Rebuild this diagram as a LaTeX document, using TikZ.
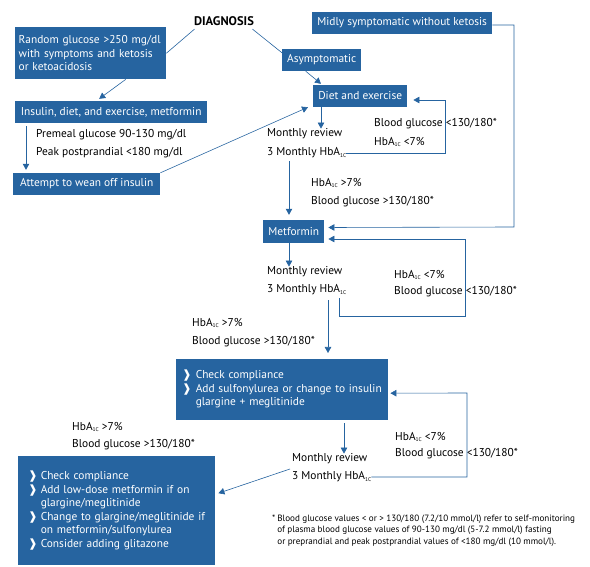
\documentclass[tikz,border=0pt]{standalone}
\usepackage{fontspec}
\setmainfont{PT Sans}
\newfontfamily\symfont{DejaVu Sans}
\usetikzlibrary{arrows.meta}
\definecolor{dblue}{RGB}{38,100,160}
\newcommand{\hbsub}{HbA\raisebox{-1.7pt}{\fontsize{5.5}{5.5}\selectfont 1C}}
\newcommand{\bul}{{\symfont\bfseries ❱}}

\begin{document}
\begin{tikzpicture}[x=1pt,y=-1pt,
  every node/.style={font=\fontsize{11.4}{13.5}\selectfont},
  box/.style={fill=dblue,text=white,inner sep=0pt,minimum height=22pt},
  txt/.style={inner sep=0pt,anchor=west},
  flow/.style={draw=dblue,line width=0.6pt},
  arr/.style={flow,-{Triangle[width=6.5pt,length=6pt]}}]
\useasboundingbox (0,0) rectangle (590,567);

\node[font=\bfseries\fontsize{12.5}{14}\selectfont] (diag) at (224,21) {DIAGNOSIS};
\node[box,anchor=north west,minimum height=52pt,text width=144pt,inner xsep=3.5pt,align=left] (rand) at (15,27) {Random glucose >250 mg/dl\\with symptoms and ketosis\\or ketoacidosis};
\node[box,anchor=west,minimum width=192pt] (ins) at (15,112) {Insulin, diet, and exercise, metformin};
\node[txt] (pre) at (36,135) {Premeal glucose 90-130 mg/dl};
\node[txt] (peak) at (36,153) {Peak postprandial <180 mg/dl};
\node[box,anchor=west,minimum width=147pt] (wean) at (13,184) {Attempt to wean off insulin};
\node[box,anchor=west,minimum width=180pt] (mild) at (312,23) {Midly symptomatic without ketosis};
\node[box,anchor=west,minimum width=79pt] (asym) at (282,60) {Asymptomatic};
\node[box,anchor=west,minimum width=94pt] (diet) at (313,96) {Diet and exercise};

\node[txt] (mr1) at (267,134) {Monthly review};
\node[txt] (hb1) at (267,153) {3 Monthly \hbsub};
\node[txt] (bg1) at (374,124) {Blood glucose <130/180*};
\node[txt] (hl1) at (374,142) {\hbsub{} <7\%};
\node[txt] (hh1) at (311,183) {\hbsub{} >7\%};
\node[txt] (bh1) at (311,202) {Blood glucose >130/180*};

\node[box,anchor=west,minimum width=61pt,minimum height=23pt] (met) at (263,231.5) {Metformin};
\node[txt] (mr2) at (267,272) {Monthly review};
\node[txt] (hb2) at (267,290) {3 Monthly \hbsub};
\node[txt] (hl2) at (394,275) {\hbsub{} <7\%};
\node[txt] (bg2) at (394,292) {Blood glucose <130/180*};
\node[txt] (hh2) at (192,323) {\hbsub{} >7\%};
\node[txt] (bh2) at (192,342) {Blood glucose >130/180*};

\node[box,anchor=north west,minimum height=61pt,text width=200pt,inner xsep=6pt,align=left] (chk) at (176,359) {\begin{tabular}{@{}l@{\hspace{4pt}}l@{}}
\bul & Check compliance\\
\bul & Add sulfonylurea or change to insulin\\
 & glargine + meglitinide
\end{tabular}};
\node[txt] (mr3) at (292,459) {Monthly review};
\node[txt] (hb3) at (292,477) {3 Monthly \hbsub};
\node[txt] (hl3) at (395,437) {\hbsub{} <7\%};
\node[txt] (bg3) at (395,454) {Blood glucose <130/180*};
\node[txt] (hh3) at (72,427) {\hbsub{} >7\%};
\node[txt] (bh3) at (72,445) {Blood glucose >130/180*};

\node[box,anchor=north west,minimum height=109pt,text width=177pt,inner xsep=10pt,align=left] (last) at (18,456) {\begin{tabular}{@{}l@{\hspace{3pt}}l@{}}
\bul & Check compliance\\
\bul & Add low-dose metformin if on\\
 & glargine/meglitinide\\
\bul & Change to glargine/meglitinide if\\
 & on metformin/sulfonylurea\\
\bul & Consider adding glitazone
\end{tabular}};

\node[anchor=north west,inner sep=0pt,font=\fontsize{9.1}{11.5}\selectfont,align=left] (note) at (272,513) {\begin{tabular}{@{}l@{\hspace{2pt}}l@{}}
* & Blood glucose values < or > 130/180 (7.2/10 mmol/l) refer to self-monitoring\\
 & of plasma blood glucose values of 90-130 mg/dl (5-7.2 mmol/l) fasting\\
 & or preprandial and peak postprandial values of <180 mg/dl (10 mmol/l).
\end{tabular}};

\coordinate (mildturn) at (514,227);
\coordinate (loop1) at (445,100);
\coordinate (loop2) at (465,316);
\coordinate (loop3) at (467,393);

\draw[flow] ([xshift=4pt]diag.south west) -- (rand.east);
\draw[flow] ([xshift=-5pt]diag.south east) -- ([yshift=-4pt]asym.north west);
\draw[arr] ([xshift=35pt]rand.south) -- ([xshift=-12pt,yshift=2pt]ins.north);
\draw[arr] ([xshift=11pt,yshift=-3pt]ins.south west) -- ([xshift=11pt,yshift=3pt]ins.south west |- wean.north);
\draw[arr] (wean.north east) -- ([xshift=-5pt]diet.south west);
\draw[arr] ([yshift=-2pt]mild.east) -| (mildturn) -- ([xshift=4pt,yshift=4pt]met.east);
\draw[arr] ([xshift=-16pt]asym.south) -- ([xshift=8pt,yshift=1pt]diet.north west);
\draw[arr] ([xshift=8pt]diet.south west) -- ([xshift=8pt]diet.south west |- mr1.north);
\draw[arr] (hb1.east) -| (loop1) -- ([xshift=6pt,yshift=-4pt]diet.east);
\draw[arr,shorten >=5pt] ([xshift=22pt,yshift=-3pt]hb1.south west) -- ([xshift=22pt]hb1.south west |- met.north);
\draw[arr] ([xshift=26pt]met.south west) -- ([xshift=26pt]met.south west |- mr2.north);
\draw[arr] ([xshift=72pt,yshift=-3pt]hb2.south west) |- (loop2) |- ([xshift=4pt,yshift=-7.5pt]met.east);
\draw[arr,shorten >=6pt] ([xshift=61pt,yshift=-5pt]hb2.south west) -- ([xshift=61pt]hb2.south west |- chk.north);
\draw[arr] ([xshift=168pt,yshift=-3pt]chk.south west) -- ([xshift=168pt]chk.south west |- mr3.north);
\draw[arr] (hb3.east) -| (loop3) -- ([xshift=2pt,yshift=-3.5pt]chk.east);
\draw[arr] ([xshift=-2pt,yshift=8pt]hb3.west) -- ([xshift=3pt,yshift=17.5pt]last.east);
\end{tikzpicture}
\end{document}
